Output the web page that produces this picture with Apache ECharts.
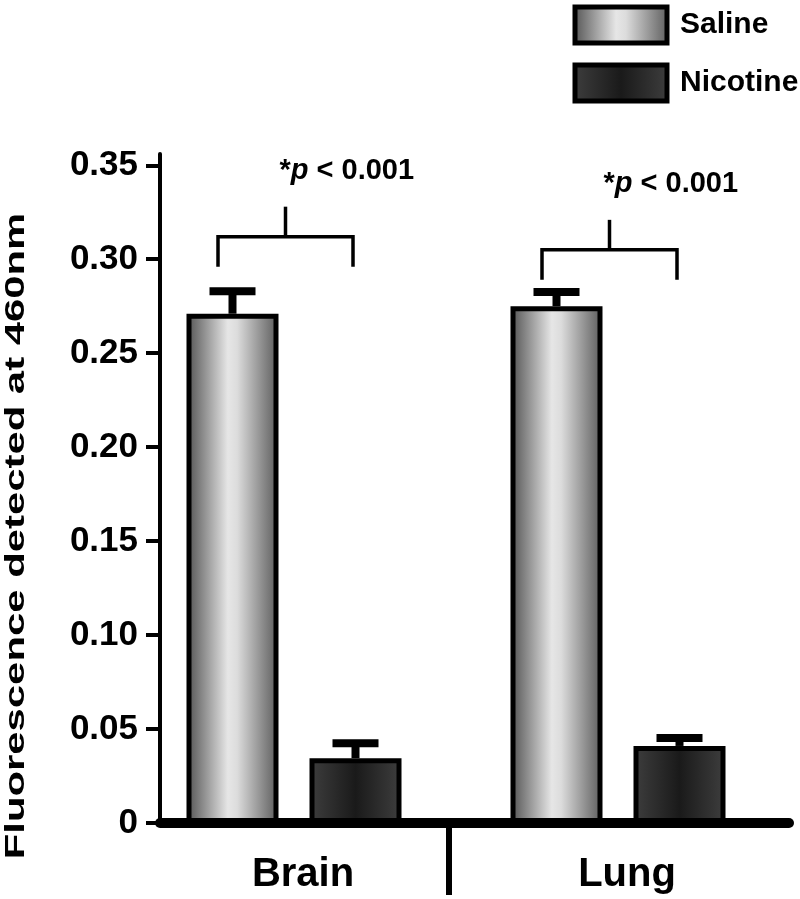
<!DOCTYPE html>
<html>
<head>
<meta charset="utf-8">
<script src="https://cdn.jsdelivr.net/npm/echarts@6/dist/echarts.min.js"></script>
<style>
  html, body { margin: 0; padding: 0; background: #fff; }
  #chart { width: 800px; height: 899px; }
</style>
</head>
<body>
<div id="chart"></div>
<script>
// data
const categories = ['Brain', 'Lung'];
const salineMean = [0.271, 0.275];
const salineErr = [0.012, 0.0075];
const nicotineMean = [0.0345, 0.041];
const nicotineErr = [0.008, 0.0042];
const yTicks = [0, 0.05, 0.10, 0.15, 0.20, 0.25, 0.30, 0.35];
const pLabels = ['*p < 0.001', '*p < 0.001'];
const bracketLevel = [0.312, 0.305];

const FONT = '"Liberation Sans", Arial, sans-serif';
const BAR_W = 92;
const GAP_PX = 31;
const SHIFT = (BAR_W + GAP_PX) / 2;
const GRID_TOP = 154;
const GRID_BOTTOM = 76;
const Y_MAX = 0.356;

const salineFill = new echarts.graphic.LinearGradient(0, 0, 1, 0, [
  { offset: 0, color: '#505050' },
  { offset: 0.45, color: '#e6e6e6' },
  { offset: 0.55, color: '#dcdcdc' },
  { offset: 1, color: '#5a5a5a' }
]);
const nicotineFill = new echarts.graphic.LinearGradient(0, 0, 1, 0, [
  { offset: 0, color: '#3e3e3e' },
  { offset: 0.5, color: '#1a1a1a' },
  { offset: 1, color: '#3e3e3e' }
]);

function errorBars(means, errs, sign) {
  return {
    type: 'custom',
    xAxisIndex: 0,
    yAxisIndex: 0,
    z: 5,
    silent: true,
    data: means.map((m, i) => [i, m, m + errs[i]]),
    renderItem: (params, api) => {
      const x = api.coord([api.value(0), 0])[0] + sign * SHIFT;
      const yBar = api.coord([api.value(0), api.value(1)])[1];
      const yTop = api.coord([api.value(0), api.value(2)])[1];
      return {
        type: 'group',
        children: [
          { type: 'rect', shape: { x: x - 4, y: yTop, width: 8, height: yBar - yTop }, style: { fill: '#000' } },
          { type: 'rect', shape: { x: x - 23, y: yTop - 4, width: 46, height: 8 }, style: { fill: '#000' } }
        ]
      };
    }
  };
}

const brackets = {
  type: 'custom',
  xAxisIndex: 0,
  yAxisIndex: 0,
  z: 5,
  silent: true,
  data: bracketLevel.map((v, i) => [i, v]),
  renderItem: (params, api) => {
    const c = api.coord([api.value(0), api.value(1)]);
    const left = c[0] - 76, right = c[0] + 59, mid = (left + right) / 2;
    const y = c[1];
    const line = { stroke: '#000', lineWidth: 3.5 };
    return {
      type: 'group',
      children: [
        { type: 'polyline', shape: { points: [[left, y + 30], [left, y], [right, y], [right, y + 30]] }, style: Object.assign({ fill: null }, line) },
        { type: 'line', shape: { x1: mid, y1: y, x2: mid, y2: y - 30 }, style: line },
        {
          type: 'text',
          x: mid - 6,
          y: y - 66,
          style: {
            text: '{a|*}{b|p}{a|' + pLabels[params.dataIndex].slice(2) + '}',
            verticalAlign: 'middle',
            rich: {
              a: { fontFamily: FONT, fontWeight: 'bold', fontSize: 29, fill: '#000' },
              b: { fontFamily: FONT, fontWeight: 'bold', fontStyle: 'italic', fontSize: 29, fill: '#000' }
            }
          }
        }
      ]
    };
  }
};

// short vertical divider under the axis, between the two categories
const divider = {
  type: 'custom',
  xAxisIndex: 0,
  yAxisIndex: 0,
  z: 5,
  silent: true,
  data: [[0]],
  renderItem: (params, api) => {
    const a = api.coord([0, 0]);
    const b = api.coord([1, 0]);
    const x = (a[0] + b[0]) / 2 - 7;
    return { type: 'rect', shape: { x: x - 3, y: a[1], width: 6, height: 72 }, style: { fill: '#000' } };
  }
};

const chart = echarts.init(document.getElementById('chart'), null, { renderer: 'canvas' });

const option = {
  backgroundColor: '#fff',
  animation: false,
  legend: {
    orient: 'vertical',
    left: 572.5,
    top: 4.5,
    padding: 0,
    icon: 'rect',
    itemWidth: 92,
    itemHeight: 36,
    itemGap: 17,
    data: ['Saline', 'Nicotine'],
    itemStyle: { borderColor: '#000', borderWidth: 5 },
    textStyle: { fontFamily: FONT, fontWeight: 'bold', fontSize: 30, color: '#000', padding: [0, 0, 0, 8] }
  },
  grid: [
    { left: 132, right: 20, top: GRID_TOP, bottom: GRID_BOTTOM },
    { left: 160, right: 11, top: GRID_TOP, bottom: GRID_BOTTOM }
  ],
  xAxis: [
    {
      type: 'category',
      gridIndex: 0,
      data: categories,
      axisLine: { show: false },
      axisTick: { show: false },
      axisLabel: { margin: 32, padding: [0, 0, 0, 18], fontFamily: FONT, fontWeight: 'bold', fontSize: 40, color: '#000' }
    },
    {
      type: 'value',
      gridIndex: 1,
      min: 0,
      max: 1,
      z: 10,
      splitLine: { show: false },
      axisTick: { show: false },
      axisLabel: { show: false },
      axisLine: { show: true, lineStyle: { color: '#000', width: 10 } }
    }
  ],
  yAxis: [
    {
      type: 'value',
      gridIndex: 0,
      min: 0,
      max: Y_MAX,
      show: false
    },
    {
      type: 'value',
      gridIndex: 1,
      min: 0,
      max: Y_MAX,
      z: 10,
      splitLine: { show: false },
      axisLine: { show: true, lineStyle: { color: '#000', width: 4 } },
      axisTick: { show: true, customValues: yTicks, length: 14, lineStyle: { color: '#000', width: 4 } },
      axisLabel: {
        customValues: yTicks,
        margin: 22,
        fontFamily: FONT,
        fontWeight: 'bold',
        fontSize: 35,
        color: '#000',
        formatter: (v) => (v === 0 ? '0' : v.toFixed(2))
      }
    }
  ],
  graphic: [
    {
      type: 'text',
      x: 17,
      y: 536,
      rotation: Math.PI / 2,
      scaleX: 1.55,
      style: {
        text: 'Fluorescence detected at 460nm',
        fontFamily: FONT,
        fontWeight: 'bold',
        fontSize: 27,
        fill: '#000',
        align: 'center',
        verticalAlign: 'middle'
      }
    }
  ],
  series: [
    {
      name: 'Saline',
      type: 'bar',
      xAxisIndex: 0,
      yAxisIndex: 0,
      barWidth: BAR_W,
      barGap: (GAP_PX / BAR_W * 100).toFixed(1) + '%',
      data: salineMean,
      itemStyle: { color: salineFill, borderColor: '#000', borderWidth: 5 }
    },
    {
      name: 'Nicotine',
      type: 'bar',
      xAxisIndex: 0,
      yAxisIndex: 0,
      barWidth: BAR_W,
      barGap: (GAP_PX / BAR_W * 100).toFixed(1) + '%',
      data: nicotineMean,
      itemStyle: { color: nicotineFill, borderColor: '#000', borderWidth: 5 }
    },
    errorBars(salineMean, salineErr, -1),
    errorBars(nicotineMean, nicotineErr, 1),
    brackets,
    divider
  ]
};

chart.setOption(option);
</script>
</body>
</html>
